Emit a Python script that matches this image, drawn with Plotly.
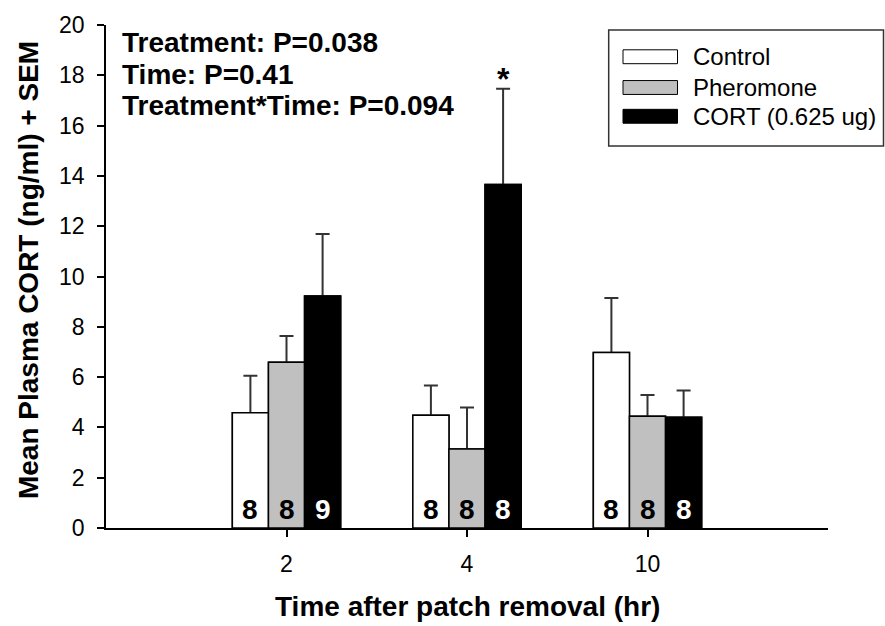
import plotly.graph_objects as go

# ---------------- data ----------------
times = ["2", "4", "10"]
series_names = ["Control", "Pheromone", "CORT (0.625 ug)"]
control_mean = [4.58, 4.48, 6.98]
control_sem = [1.47, 1.19, 2.17]
pheromone_mean = [6.59, 3.14, 4.44]
pheromone_sem = [1.04, 1.65, 0.85]
cort_mean = [9.22, 13.66, 4.40]
cort_sem = [2.47, 3.81, 1.07]
control_n = ["8", "8", "8"]
pheromone_n = ["8", "8", "8"]
cort_n = ["9", "8", "8"]
stats_lines = ["Treatment: P=0.038", "Time: P=0.41", "Treatment*Time: P=0.094"]
y_ticks = [0, 2, 4, 6, 8, 10, 12, 14, 16, 18, 20]

# ---------------- layout helpers ----------------
W, H = 885, 626
L, R, T, B = 106, 828, 21, 528   # plot area in pixels
FONT = "Liberation Sans, Arial, sans-serif"


def px(x):
    return (x - L) / (R - L)


def py(y):
    return (B - y) / (B - T)


fills = ["#ffffff", "#c0c0c0", "#000000"]
text_colors = ["#000000", "#000000", "#ffffff"]
means = [control_mean, pheromone_mean, cort_mean]
sems = [control_sem, pheromone_sem, cort_sem]
ns = [control_n, pheromone_n, cort_n]

fig = go.Figure()
# error bars first (drawn beneath the bars, so only the "+SEM" half shows)
for k, (name, m, s, fc) in enumerate(zip(series_names, means, sems, fills)):
    fig.add_trace(go.Bar(
        x=times, y=m, name=name, offsetgroup=str(k),
        marker=dict(color=fc, line=dict(color="#000000", width=1.5)),
        error_y=dict(type="data", array=s, color="#333333", thickness=2, width=7),
        showlegend=False, hoverinfo="skip",
    ))
# the bars themselves, same slots, covering the lower half of each error bar
for k, (name, m, fc) in enumerate(zip(series_names, means, fills)):
    fig.add_trace(go.Bar(
        x=times, y=m, name=name, offsetgroup=str(k),
        marker=dict(color=fc, line=dict(color="#000000", width=1.5)),
        showlegend=False,
    ))

annotations = []
# sample sizes inside bars
offsets = [-0.2, 0.0, 0.2]
for k, (n, tc) in enumerate(zip(ns, text_colors)):
    for i, label in enumerate(n):
        annotations.append(dict(
            x=i + offsets[k], y=0, xref="x", yref="y", xanchor="center", yanchor="middle",
            yshift=19, showarrow=False, text="<b>%s</b>" % label,
            font=dict(family=FONT, size=28, color=tc)))

# stats text
for i, line in enumerate(stats_lines):
    annotations.append(dict(
        xref="paper", yref="paper", x=px(120), y=py(39 + i * 31.5),
        xanchor="left", yanchor="middle", showarrow=False,
        text="<b>%s</b>" % line, font=dict(family=FONT, size=28, color="#000000")))

# significance star on CORT at 4 hr
annotations.append(dict(
    x=1.2, y=cort_mean[1] + cort_sem[1], xref="x", yref="y",
    xanchor="center", yanchor="middle", yshift=10, showarrow=False,
    text="<b>*</b>", font=dict(family=FONT, size=32, color="#000000")))

# axis titles
annotations.append(dict(
    xref="paper", yref="paper", x=0.5, y=py(607), xanchor="center", yanchor="middle",
    showarrow=False, text="<b>Time after patch removal (hr)</b>",
    font=dict(family=FONT, size=28, color="#000000")))
annotations.append(dict(
    xref="paper", yref="paper", x=px(28), y=py(268), xanchor="center", yanchor="middle",
    showarrow=False, textangle=-90, text="<b>Mean Plasma CORT (ng/ml) + SEM</b>",
    font=dict(family=FONT, size=28, color="#000000")))

# manual legend
shapes = [dict(type="rect", xref="paper", yref="paper",
               x0=px(608.7), x1=px(883.5), y0=py(143), y1=py(26),
               line=dict(color="#333333", width=1.5), fillcolor="rgba(0,0,0,0)")]
legend_y = [53, 84, 113]
for name, fc, ly in zip(series_names, fills, legend_y):
    shapes.append(dict(type="rect", xref="paper", yref="paper",
                       x0=px(623), x1=px(677.5), y0=py(ly + 7), y1=py(ly - 7),
                       line=dict(color="#000000", width=1), fillcolor=fc))
    annotations.append(dict(
        xref="paper", yref="paper", x=px(691), y=py(ly), xanchor="left", yanchor="middle",
        showarrow=False, text=name, font=dict(family=FONT, size=24, color="#000000")))

fig.update_layout(
    width=W, height=H,
    margin=dict(l=L, r=W - R, t=T, b=H - B, pad=0),
    paper_bgcolor="#ffffff", plot_bgcolor="#ffffff",
    barmode="group", bargap=0.4, bargroupgap=0,
    font=dict(family=FONT, color="#000000"),
    annotations=annotations, shapes=shapes,
    showlegend=False,
)
fig.update_xaxes(
    type="category", range=[-1, 3], showline=True, linecolor="#000000", linewidth=1.5,
    ticks="outside", ticklen=7, tickwidth=1.5, tickcolor="#000000", ticklabelstandoff=8,
    tickfont=dict(family=FONT, size=23, color="#000000"), showgrid=False, zeroline=False,
)
fig.update_yaxes(
    range=[0, 20], tickvals=y_ticks, showline=True, linecolor="#000000", linewidth=1.5,
    ticks="outside", ticklen=7, tickwidth=1.5, tickcolor="#000000", ticklabelstandoff=8,
    tickfont=dict(family=FONT, size=23, color="#000000"), showgrid=False, zeroline=False,
)

fig.write_html("out.html")
